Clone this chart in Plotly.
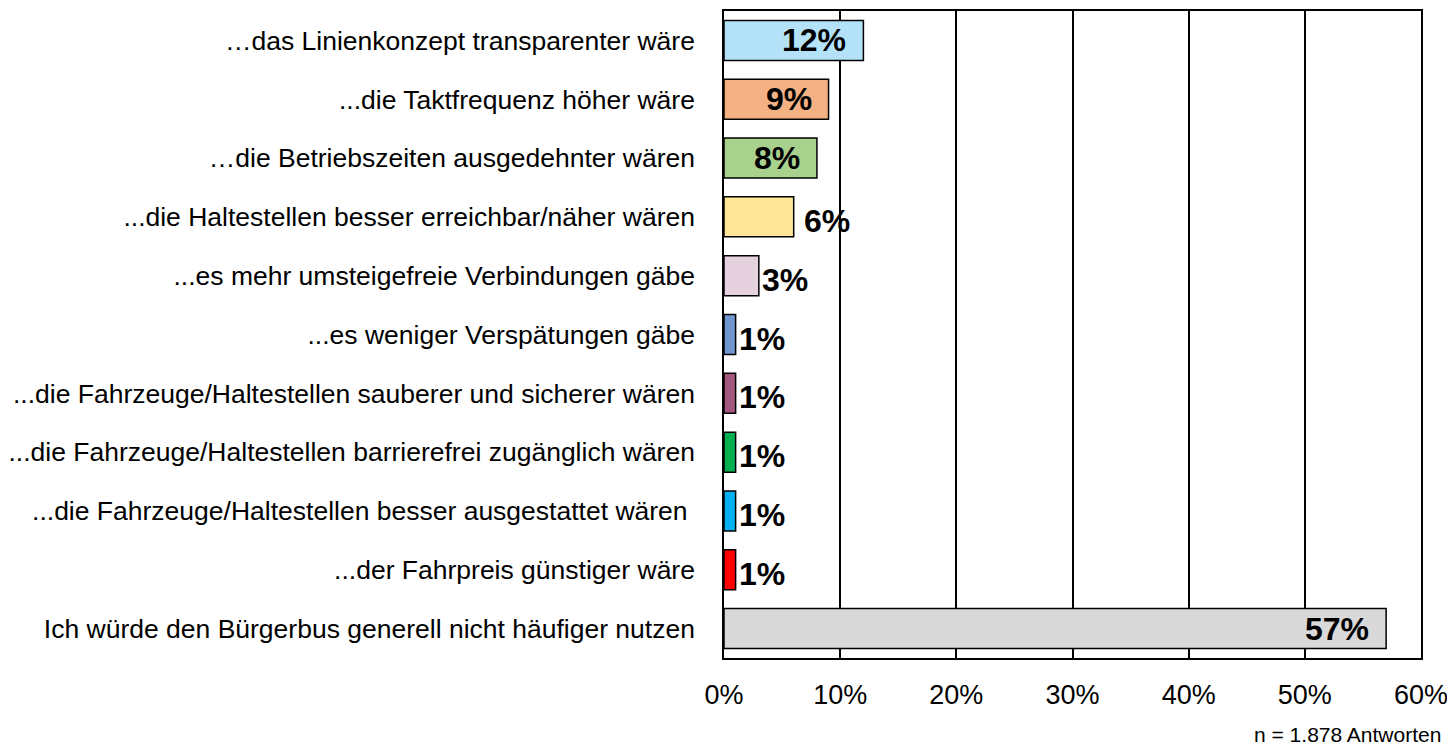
import plotly.graph_objects as go

categories = [
    "…das Linienkonzept transparenter wäre",
    "...die Taktfrequenz höher wäre",
    "…die Betriebszeiten ausgedehnter wären",
    "...die Haltestellen besser erreichbar/näher wären",
    "...es mehr umsteigefreie Verbindungen gäbe",
    "...es weniger Verspätungen gäbe",
    "...die Fahrzeuge/Haltestellen sauberer und sicherer wären",
    "...die Fahrzeuge/Haltestellen barrierefrei zugänglich wären",
    "...die Fahrzeuge/Haltestellen besser ausgestattet wären ",
    "...der Fahrpreis günstiger wäre",
    "Ich würde den Bürgerbus generell nicht häufiger nutzen",
]
values = [12, 9, 8, 6, 3, 1, 1, 1, 1, 1, 57]
colors = ["#B4E3F9", "#F4B183", "#A9D18E", "#FFE699", "#E6D2DE",
          "#7094D0", "#A4577E", "#00B050", "#00B0F0", "#FF0000", "#D9D9D9"]
label_inside = [True, True, True, False, False, False, False, False, False, False, True]
x_ticks = [0, 10, 20, 30, 40, 50, 60]
x_tick_labels = ["0%", "10%", "20%", "30%", "40%", "50%", "60%"]
note = "n = 1.878 Antworten"

FONT = "Liberation Sans, Arial, sans-serif"

fig = go.Figure(go.Bar(
    y=categories,
    x=values,
    orientation="h",
    marker=dict(color=colors, line=dict(color="#000000", width=1.5)),
    width=0.68,
    hoverinfo="x+y",
))

annotations = []
for cat, v, inside in zip(categories, values, label_inside):
    if inside:
        annotations.append(dict(
            x=v, y=cat, xref="x", yref="y", text=f"<b>{v}%</b>",
            xanchor="right", yanchor="middle", xshift=-15, yshift=0,
            showarrow=False, font=dict(family=FONT, size=32, color="#000000"),
        ))
    else:
        annotations.append(dict(
            x=v, y=cat, xref="x", yref="y", text=f"<b>{v}%</b>",
            xanchor="left", yanchor="middle", xshift=(8 if v >= 5 else 1), yshift=-4,
            showarrow=False, font=dict(family=FONT, size=32, color="#000000"),
        ))

annotations.append(dict(
    text=note, xref="paper", yref="paper", x=1.031, y=-0.119,
    xanchor="right", yanchor="middle", showarrow=False,
    font=dict(family=FONT, size=21, color="#000000"),
))

# page body has an 8px default margin; figure is sized to fit the 1455x747 window
fig.update_layout(
    width=1447, height=739,
    margin=dict(l=712, r=34, t=1, b=89),
    plot_bgcolor="white", paper_bgcolor="white",
    showlegend=False,
    font=dict(family=FONT, color="#000000"),
    xaxis=dict(
        range=[0, 60], tickvals=x_ticks, ticktext=x_tick_labels,
        showgrid=True, gridcolor="#000000", gridwidth=1.5,
        showline=True, linecolor="#000000", linewidth=1.5, mirror=True,
        ticks="", ticklabelstandoff=12,
        tickfont=dict(size=27), zeroline=False, fixedrange=True,
    ),
    yaxis=dict(
        autorange="reversed", showgrid=False,
        showline=True, linecolor="#000000", linewidth=1.5, mirror=True,
        ticks="", tickfont=dict(size=26.5), ticklabelstandoff=22,
    ),
    annotations=annotations,
)

fig.write_html("out.html")
